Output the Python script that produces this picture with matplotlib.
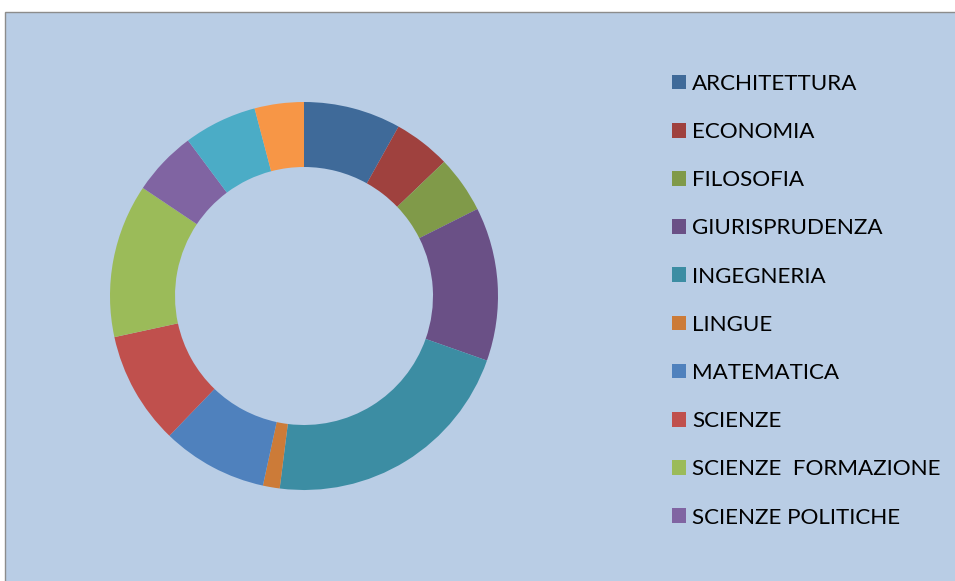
import matplotlib

matplotlib.use("Agg")
import matplotlib.pyplot as plt  # noqa: E402
from matplotlib.patches import Rectangle  # noqa: E402

# share of students per faculty (%), clockwise from 12 o'clock
faculties = [
    "ARCHITETTURA",
    "ECONOMIA",
    "FILOSOFIA",
    "GIURISPRUDENZA",
    "INGEGNERIA",
    "LINGUE",
    "MATEMATICA",
    "SCIENZE",
    "SCIENZE  FORMAZIONE",
    "SCIENZE POLITICHE",
    "SCIENZE STATISTICHE",
    "STUDI ORIENTALI",
]
shares = [8.1, 4.75, 4.75, 12.8, 21.6, 1.4, 8.8, 9.4, 12.8, 5.4, 6.1, 4.1]
colours = [
    "#3F6A99", "#9F413E", "#809A49", "#6A5086", "#3C8DA3", "#CC7B38",
    "#4F81BD", "#C0504D", "#9BBB59", "#8064A2", "#4BACC6", "#F79646",
]
n_legend = 10  # only the first ten entries fit in the legend box

W, H = 955, 581
BG = "#B9CDE5"

fig = plt.figure(figsize=(W / 100, H / 100), dpi=100)
fig.patch.set_facecolor("white")

# chart area panel with grey border on top/left
panel = Rectangle((4.5 / W, -0.05), 1.1, (H - 11.5) / H + 0.05, transform=fig.transFigure,
                  facecolor=BG, edgecolor="#8C8C8C", linewidth=1.0, zorder=-1)
fig.patches.append(panel)

cx, cy, r_out, r_in = 304, 296, 194, 129
ax = fig.add_axes([(cx - r_out) / W, (H - cy - r_out) / H, 2 * r_out / W, 2 * r_out / H])
ax.set_facecolor("none")
wedges, _ = ax.pie(
    shares,
    colors=colours,
    startangle=90,
    counterclock=False,
    radius=1.0,
    wedgeprops=dict(width=1 - r_in / r_out, linewidth=0),
)
ax.set_xlim(-1, 1)
ax.set_ylim(-1, 1)
ax.set_aspect("equal")
ax.axis("off")

leg = fig.legend(
    wedges[:n_legend],
    faculties[:n_legend],
    loc="upper left",
    bbox_to_anchor=(663 / W, (H - 65) / H),
    frameon=False,
    prop={"family": "Lato", "size": 16.1},
    handlelength=0.63,
    handleheight=0.63,
    handletextpad=0.27,
    labelspacing=1.26,
    borderaxespad=0,
)

fig.savefig("out.png", dpi=100, facecolor=fig.get_facecolor())
